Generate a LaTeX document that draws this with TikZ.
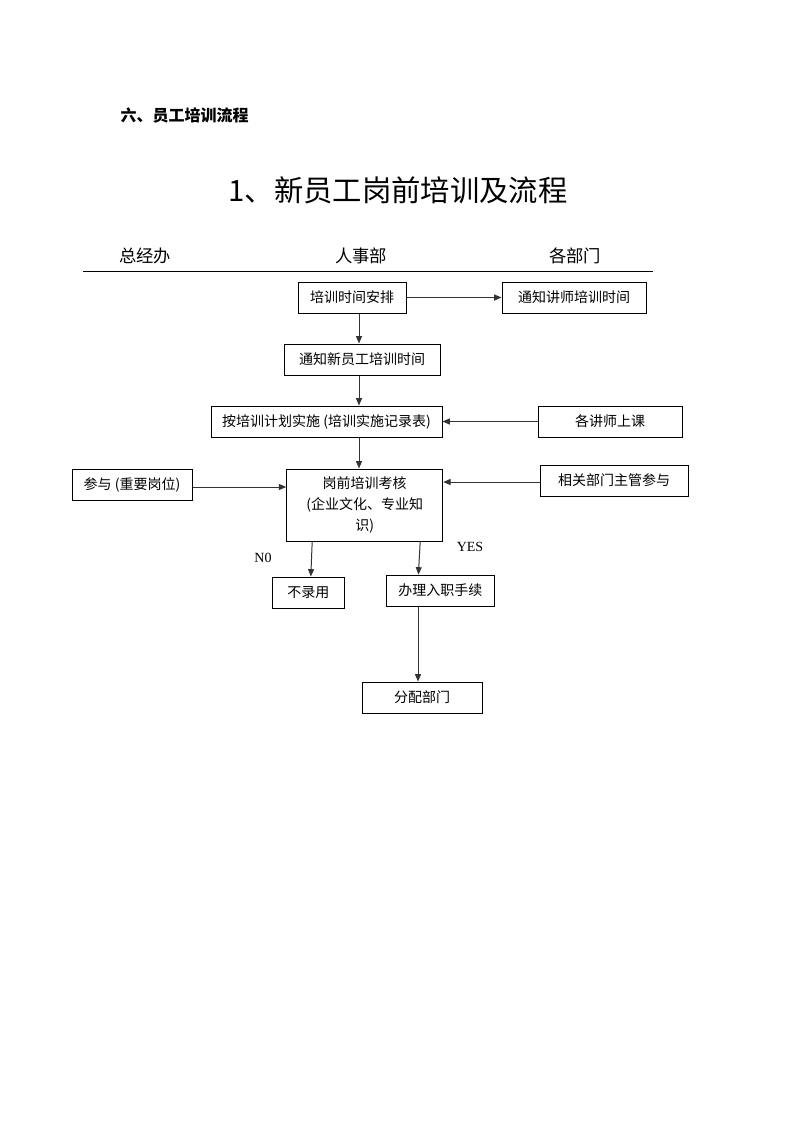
\documentclass[tikz,border=0pt]{standalone}
\usepackage{fontspec}
\setmainfont{Liberation Serif}
\newfontfamily\cjk{Noto Sans CJK SC}
\usetikzlibrary{arrows.meta,calc}
\begin{document}
\begin{tikzpicture}[x=0.75pt,y=-0.75pt,
	box/.style={draw, line width=0.75pt, font=\cjk\fontsize{10.5}{15.75}\selectfont, minimum height=23.25pt, inner sep=1pt, align=center},
	arr/.style={-{Triangle[length=5.5pt,width=4.5pt]}, line width=0.75pt, draw=black!80}]
	\useasboundingbox (0,0) rectangle (793,1122);
	\draw (116,115) node[anchor=west, font=\cjk\bfseries\fontsize{12}{14}\selectfont] (Sec) {六、员工培训流程};
	\draw (398,190) node[font=\cjk\fontsize{22}{26}\selectfont] (Title) {1、新员工岗前培训及流程};
	\draw (145,256) node[font=\cjk\fontsize{13}{15}\selectfont] (ColA) {总经办};
	\draw (361,256) node[font=\cjk\fontsize{13}{15}\selectfont] (ColB) {人事部};
	\draw (575,256) node[font=\cjk\fontsize{13}{15}\selectfont] (ColC) {各部门};
	\draw[line width=0.75pt] (83,271) -- (653,271);
	\coordinate (Spine) at (359,0);
	\coordinate (Drop) at (418,0);
	\draw (352,297.5) node[box, minimum width=81pt] (Plan) {培训时间安排};
	\draw (574,297.5) node[box, minimum width=108pt] (Teach) {通知讲师培训时间};
	\draw (362,359.5) node[box, minimum width=117pt] (Notice) {通知新员工培训时间};
	\draw (326.5,421.5) node[box, minimum width=173.25pt] (Run) {按培训计划实施 (培训实施记录表)};
	\draw (610,421.5) node[box, minimum width=108pt] (Class) {各讲师上课};
	\draw (364.7,505) node[box, minimum width=117pt, minimum height=54pt] (Exam) {岗前培训考核\\(企业文化、专业知\\识)};
	\draw (132,484.5) node[box, minimum width=90pt] (Join) {参与 (重要岗位)};
	\draw (614,480.5) node[box, minimum width=111pt] (Head) {相关部门主管参与};
	\draw (308.3,592.5) node[box, minimum width=54pt] (Reject) {不录用};
	\draw (440.3,590.5) node[box, minimum width=81pt] (Hire) {办理入职手续};
	\draw (422,697.5) node[box, minimum width=90pt] (Assign) {分配部门};
	\draw (263,558) node[font=\fontsize{10.5}{12}\selectfont] (No) {N0};
	\draw (470,547) node[font=\fontsize{10.5}{12}\selectfont] (Yes) {YES};
	\coordinate (JoinOut) at ($(Join.east)+(0,2.5)$);
	\coordinate (HeadOut) at ($(Head.west)+(0,1.5)$);
	\draw[arr] (Plan.east) -- (Teach.west);
	\draw[arr] (Plan.south -| Spine) -- (Notice.north -| Spine);
	\draw[arr] (Notice.south -| Spine) -- (Run.north -| Spine);
	\draw[arr] (Class.west) -- (Run.east);
	\draw[arr] (Run.south -| Spine) -- (Exam.north -| Spine);
	\draw[arr] (JoinOut) -- (JoinOut -| Exam.west);
	\draw[arr] (HeadOut) -- (HeadOut -| Exam.east);
	\draw[arr] ($(Exam.south west)+(26,0)$) -- ($(Reject.north west)+(39,0)$);
	\draw[arr] ($(Exam.south west)+(134,0)$) -- ($(Hire.north west)+(32.6,0)$);
	\draw[arr] (Hire.south -| Drop) -- (Assign.north -| Drop);
\end{tikzpicture}
\end{document}
